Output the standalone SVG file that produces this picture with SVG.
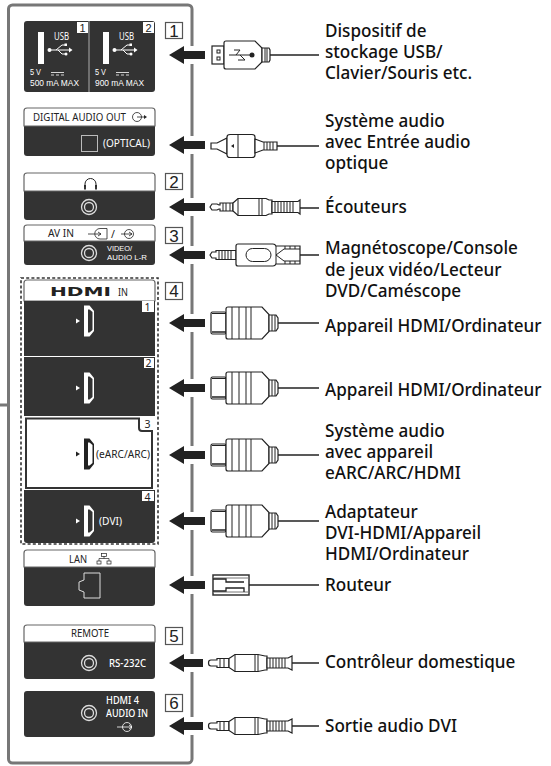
<svg xmlns="http://www.w3.org/2000/svg" width="551" height="766" viewBox="0 0 551 766">
<style>
text{font-family:"Noto Sans","Open Sans","Liberation Sans",sans-serif;}
.lbl{font-size:17.100px;font-weight:500;fill:#111;}
.pd{fill:#333;}
.pan{fill:#fff;stroke:#666;stroke-width:1.2;}
.w{fill:#fff;font-size:10.500px;}
.k{fill:#222;font-size:10.500px;}
text.nr{font-family:"Liberation Sans",sans-serif;font-size:9.500px;}
text.nv{font-family:"Liberation Sans",sans-serif;font-size:7.800px;}
.num{fill:#fff;stroke:#555;stroke-width:1.200;}
.nt{font-family:"Liberation Sans",sans-serif;font-size:17px;fill:#222;text-anchor:middle;}
.pl{fill:#fff;stroke:#222;stroke-width:1.200;}
.ln{fill:none;stroke:#222;stroke-width:1;}
.cb{fill:none;stroke:#222;stroke-width:1.500;}
</style>
<defs>
<path id="arrow" d="M169 0L184-9V-4H205V4H184V9Z" fill="#222"/>
<g id="hdmiplug">
<rect class="pl" x="211" y="-11" width="15" height="22" rx="1.500"/>
<path class="ln" d="M212-9.500H226"/><path d="M212 9H226" stroke="#222" stroke-width="1.500"/>
<path class="pl" d="M226-14Q226-16 228-16H262L269-8.500V8.500L262 16H228Q226 16 226 14Z"/>
<path class="ln" d="M232-16V16M239-16V16M246-16V16M251-16V16"/>
<path class="pl" d="M269-8H276L278-5V5L276 8H269Z"/><path class="ln" d="M272-8V8M275-8V8"/>
<path class="cb" d="M278 0H319"/>
</g>
<g id="jack">
<path class="pl" d="M210 0L212-3H217L219-2H220V-4H233V4H220V2H219L217 3H212Z"/>
<path class="ln" d="M223-4V4M226-4V4M230-4V4"/>
<path class="pl" d="M233-4L238-8.500H258L262-8.500H266L269-7H272V7H269L266 8.500H238L233 4Z"/>
<path class="ln" d="M238-8.500V8.500M259-8.500V8.500M262-8.500V8.500"/>
<path class="pl" d="M272-5.500H298L300-7V7L298 5.500H272Z"/>
<path class="ln" d="M275-5V5M278-5V5M281-5V5M284-5V5M287-5V5M290-5V5M293-5V5"/>
<path class="cb" d="M300 1H319"/>
</g>
<g id="jack2">
<path class="pl" d="M208.500 0Q208.500-3 211-3H217V-4.500H229V4.500H217V3H211Q208.500 3 208.500 0Z"/>
<path class="ln" d="M220-4.500V4.500M224-4.500V4.500"/>
<path class="pl" d="M229-4.500L235-8.500H258L265-7H267V7H265L258 8.500H235L229 4.500Z"/>
<path class="ln" d="M235-8.500V8.500M255-8.500V8.500M258-8.500V8.500"/>
<path class="pl" d="M267-5H288L292-7V7L288 5H267Z"/>
<path class="ln" d="M270-5V5M273-5V5M276-5V5M279-5V5M282-5V5M285-5V5"/>
<path class="cb" d="M292 0H319"/>
</g>
<g id="usbs">
<circle cx="-9.500" cy="0" r="2" fill="#fff"/>
<path d="M-9 0H10M-3 0L3-5H6M-1 0L3 4H6" fill="none" stroke="#fff" stroke-width="1"/>
<path d="M10-2.500L13.500 0L10 2.500Z" fill="#fff"/>
<rect x="5.500" y="-6.500" width="2.500" height="2.500" fill="#fff"/>
<circle cx="7" cy="4" r="1.500" fill="#fff"/>
</g>
<g id="jackhole"><circle r="7.500" fill="none" stroke="#ddd" stroke-width="1.300"/><circle r="4.500" fill="none" stroke="#ddd" stroke-width="1.300"/></g>
<g id="hdmihole"><path d="M-8-2.500L-4 0L-8 2.500Z" fill="#fff"/><path d="M0-15.500H5.500L10-10V10L5.500 15.500H0Z" fill="#fff"/><path d="M4-11.500H5.500L8.500-9V9L5.500 11.500H4Z" fill="#333"/></g>
</defs>

<g id="frame"><path d="M8.500 405V9A4 4 0 0 1 12.500 5H188A4 4 0 0 1 192 9V759A4 4 0 0 1 188 763H12.500A4 4 0 0 1 8.500 759V405H0" fill="none" stroke="#777" stroke-width="3"/></g>

<g id="usb-panel">
<rect class="pd" x="24" y="21" width="131" height="71" rx="3"/>
<path d="M89 21V92" stroke="#ccc" stroke-width="0.800"/>
<path d="M77 22H88V33H77ZM143 22H154V33H143Z" fill="#fff"/>
<text x="82.500" y="32" class="nt" style="font-size:11px">1</text><text x="148.500" y="32" class="nt" style="font-size:11px">2</text>
<rect x="38" y="32" width="6" height="32" fill="#fff"/><rect x="103" y="32" width="6" height="32" fill="#fff"/>
<text x="54" y="39.500" class="w" textLength="15" lengthAdjust="spacingAndGlyphs">USB</text><text x="119" y="39.500" class="w" textLength="15" lengthAdjust="spacingAndGlyphs">USB</text>
<use href="#usbs" x="59" y="50"/><use href="#usbs" x="124" y="50"/>
<text x="30" y="75" class="w nr" textLength="11" lengthAdjust="spacingAndGlyphs">5 V</text><text x="95" y="75" class="w nr" textLength="11" lengthAdjust="spacingAndGlyphs">5 V</text>
<path d="M51 72.500H64M116 72.500H129" stroke="#fff" stroke-width="0.800"/>
<path d="M51 75H64M116 75H129" stroke="#fff" stroke-width="0.800" stroke-dasharray="3 2"/>
<text x="30" y="86" class="w nr" textLength="49" lengthAdjust="spacingAndGlyphs">500 mA MAX</text><text x="95" y="86" class="w nr" textLength="49" lengthAdjust="spacingAndGlyphs">900 mA MAX</text>
</g>

<g id="digital-panel">
<rect class="pd" x="24" y="108" width="131" height="48" rx="3"/>
<path class="pan" d="M24 126V111Q24 108 27 108H152Q155 108 155 111V126Z"/>
<text x="33" y="121" class="k" style="font-size:11px" textLength="93" lengthAdjust="spacingAndGlyphs">DIGITAL AUDIO OUT</text>
<circle cx="137" cy="117" r="4.500" fill="none" stroke="#222" stroke-width="0.800"/><path d="M137 117H144" stroke="#222" stroke-width="0.800"/><path d="M144 115L147 117L144 119Z" fill="#222"/>
<rect x="81.500" y="135.500" width="16" height="16" fill="none" stroke="#bbb"/>
<text x="103" y="147" class="w" style="font-size:11px" textLength="47" lengthAdjust="spacingAndGlyphs">(OPTICAL)</text>
</g>

<g id="headphone-panel">
<rect class="pd" x="24" y="173" width="131" height="47" rx="3"/>
<path class="pan" d="M24 191V176Q24 173 27 173H152Q155 173 155 176V191Z"/>
<path d="M85 187V184A5.500 5.500 0 0 1 96 184V187" fill="none" stroke="#222" stroke-width="1"/><path d="M85 185V189.500M96 185V189.500" stroke="#222" stroke-width="1.800"/>
<use href="#jackhole" x="89" y="207"/>
</g>

<g id="av-panel">
<rect class="pd" x="24" y="225" width="131" height="40" rx="3"/>
<path class="pan" d="M24 241V228Q24 225 27 225H152Q155 225 155 228V241Z"/>
<text x="48" y="237" class="k" style="font-size:11px" textLength="26" lengthAdjust="spacingAndGlyphs">AV IN</text>
<path d="M88 234H101M98 232L101 234L98 236M100 228.500H107V239H100A5.200 5.200 0 0 1 100 228.500Z" fill="none" stroke="#222" stroke-width="0.800"/>
<text x="111" y="238" class="k">/</text>
<path d="M121 234H132M129 232L132 234L129 236" fill="none" stroke="#222" stroke-width="0.800"/><circle cx="129" cy="234" r="4.500" fill="none" stroke="#222" stroke-width="0.800"/>
<use href="#jackhole" x="89" y="253"/>
<text x="107" y="250.500" class="w nv" textLength="25" lengthAdjust="spacingAndGlyphs">VIDEO/</text>
<text x="107" y="260" class="w nv" textLength="40" lengthAdjust="spacingAndGlyphs">AUDIO L-R</text>
</g>

<g id="hdmi-panel">
<rect x="21" y="278" width="137" height="266" fill="none" stroke="#333" stroke-width="1.600" stroke-dasharray="3 2.200"/>
<path class="pan" d="M24 301V283Q24 280 27 280H152Q155 280 155 283V301Z"/>
<text x="50" y="296" style="font-family:'DejaVu Sans',sans-serif;font-size:13px;font-weight:700" fill="#222" textLength="61" lengthAdjust="spacingAndGlyphs">HDMI</text>
<text x="118" y="296" class="k" textLength="10" lengthAdjust="spacingAndGlyphs">IN</text>
<rect class="pd" x="24" y="301" width="131" height="55"/>
<rect class="pd" x="24" y="357" width="131" height="59"/>
<path d="M26 418.500H139V428Q139 431 142 431H152V488H26Z" fill="#fff" stroke="#333" stroke-width="2"/>
<path class="pd" d="M24 490H155V540Q155 543 152 543H27Q24 543 24 540Z"/>
<path d="M142 301H154V312H142ZM144 358H154V368H144ZM142 491H154V501H142Z" fill="#fff"/>
<text x="147.500" y="310.500" class="k" text-anchor="middle">1</text><text x="148.500" y="367" class="k" text-anchor="middle">2</text><text x="147.500" y="428" class="k" text-anchor="middle">3</text><text x="147.500" y="500.500" class="k" text-anchor="middle">4</text>
<use href="#hdmihole" x="84" y="321"/>
<use href="#hdmihole" x="84" y="388"/>
<g transform="translate(84,454)"><path d="M-8-2.500L-4 0L-8 2.500Z" fill="#222"/><path d="M0-15.500H5.500L10-10V10L5.500 15.500H0Z" fill="#222"/><path d="M4-11.500H5.500L8.500-9V9L5.500 11.500H4Z" fill="#fff"/></g>
<use href="#hdmihole" x="84" y="521"/>
<text x="96" y="458" class="k" style="font-size:11px" textLength="54" lengthAdjust="spacingAndGlyphs">(eARC/ARC)</text>
<text x="99" y="525" class="w" style="font-size:11px" textLength="23" lengthAdjust="spacingAndGlyphs">(DVI)</text>
</g>

<g id="lan-panel">
<rect class="pd" x="24" y="550" width="131" height="56" rx="3"/>
<path class="pan" d="M24 567V553Q24 550 27 550H152Q155 550 155 553V567Z"/>
<text x="69" y="563" class="k" style="font-size:11px" textLength="18" lengthAdjust="spacingAndGlyphs">LAN</text>
<path d="M99 561V558.500H109V561M104 558.500V556" fill="none" stroke="#222" stroke-width="0.700"/><rect x="101.500" y="553.500" width="5" height="3" fill="none" stroke="#222" stroke-width="0.700"/><rect x="97" y="561" width="4" height="3" fill="none" stroke="#222" stroke-width="0.700"/><rect x="107" y="561" width="4" height="3" fill="none" stroke="#222" stroke-width="0.700"/>
<path d="M100 573H84V580L79 582V590L84 592V598H100Z" fill="none" stroke="#ddd"/>
</g>

<g id="remote-panel">
<rect class="pd" x="24" y="625" width="131" height="54" rx="3"/>
<path class="pan" d="M24 642V628Q24 625 27 625H152Q155 625 155 628V642Z"/>
<text x="71" y="637" class="k" textLength="38" lengthAdjust="spacingAndGlyphs">REMOTE</text>
<use href="#jackhole" x="89" y="663"/>
<text x="109" y="667" class="w" style="font-weight:500" textLength="37" lengthAdjust="spacingAndGlyphs">RS-232C</text>
</g>

<g id="audio-panel">
<rect class="pd" x="24" y="691" width="131" height="46" rx="3"/>
<use href="#jackhole" x="89" y="713"/>
<text x="106" y="704" class="w" style="font-weight:500" textLength="33" lengthAdjust="spacingAndGlyphs">HDMI 4</text>
<text x="106" y="717" class="w" style="font-weight:500" textLength="42" lengthAdjust="spacingAndGlyphs">AUDIO IN</text>
<path d="M117 727H132M129 725L132 727L129 729" fill="none" stroke="#fff" stroke-width="0.800"/><circle cx="127" cy="727" r="4.500" fill="none" stroke="#fff" stroke-width="0.800"/>
</g>

<g id="numbers">
<rect class="num" x="165.500" y="22.500" width="17" height="16"/><text class="nt" x="174" y="36.500">1</text>
<rect class="num" x="165.500" y="173.500" width="17" height="16"/><text class="nt" x="174" y="187.500">2</text>
<rect class="num" x="165.500" y="227.500" width="17" height="16"/><text class="nt" x="174" y="241.500">3</text>
<rect class="num" x="165.500" y="282.500" width="17" height="17"/><text class="nt" x="174" y="297">4</text>
<rect class="num" x="165.500" y="627.500" width="17" height="17"/><text class="nt" x="174" y="642">5</text>
<rect class="num" x="165.500" y="694.500" width="17" height="17"/><text class="nt" x="174" y="709">6</text>
</g>

<g id="connectors">
<path d="M185 46H199V64H185ZM185 136H199V154H185ZM185 198H199V216H185ZM185 246H199V264H185ZM185 314H199V332H185ZM185 379H199V397H185ZM185 446H199V464H185ZM185 512H199V530H185ZM185 576H199V594H185ZM185 654H199V672H185ZM185 717H199V735H185Z" fill="#fff"/>
<use href="#arrow" y="55"/><use href="#arrow" y="145"/><use href="#arrow" y="207"/><use href="#arrow" y="255"/>
<use href="#arrow" y="323"/><use href="#arrow" y="388"/><use href="#arrow" y="455"/><use href="#arrow" y="521"/>
<use href="#arrow" y="585"/><path d="M169 663L184 654V659H203V667H184V672Z" fill="#222"/><path d="M169 726L184 717V722H203V730H184V735Z" fill="#222"/>

<g id="plug-usb" transform="translate(0,55)">
<rect class="pl" x="212" y="-9" width="12" height="18"/>
<rect x="217" y="-5" width="3" height="3" class="ln"/><rect x="217" y="2" width="3" height="3" class="ln"/>
<path class="pl" d="M224-12Q224-14 226-14H255L262-7V7L255 14H226Q224 14 224 12Z"/>
<path class="pl" d="M262-7H269L270-5V5L269 7H262Z"/><path class="ln" d="M265-7V7M267-7V7"/>
<path d="M229 0H251M236 0L240-5H234M240 0L245 5H238" fill="none" stroke="#222"/><circle cx="252" cy="0" r="2.500" fill="#222"/>
<path class="cb" d="M270 0H319"/>
</g>
<g id="plug-optical" transform="translate(0,146)">
<path class="pl" d="M211-3H217L227-8V8L217 3H211Z"/>
<path class="pl" d="M227-9Q227-11.500 230-11.500H252Q255-11.500 255-9V9Q255 11.500 252 11.500H230Q227 11.500 227 9Z"/>
<path class="ln" d="M238-11.500V11.500"/><path d="M231 0L234-2V2Z" fill="#222"/>
<path class="pl" d="M255-7L263-4H277V4H263L255 7Z"/>
<path class="ln" d="M264-4V4M267-4V4M270-4V4M273-4V4"/>
<path class="cb" d="M277 0H319"/>
</g>
<use href="#jack" y="207"/>
<g id="plug-av" transform="translate(0,255)">
<path class="pl" d="M210 0L212-3H216V-4.500H236V4.500H216V3H212Z"/>
<path class="ln" d="M219-4.500V4.500M222-4.500V4.500M225-4.500V4.500M228-4.500V4.500M231-4.500V4.500"/>
<path class="pl" d="M236-9Q236-11 238-11H273Q275-11 276-9H300V9H276Q275 11 273 11H238Q236 11 236 9Z"/>
<rect x="246" y="-6.500" width="25" height="13" rx="6.500" class="ln"/>
<path class="ln" d="M276-9V9M276 0L284-6H300M276 0L284 6H300M285-9V-6M290-9V-6M295-9V-6M285 6V9M290 6V9M295 6V9"/>
<path class="cb" d="M300 0H319"/>
</g>
<use href="#hdmiplug" y="323"/><use href="#hdmiplug" y="388"/><use href="#hdmiplug" y="455"/><use href="#hdmiplug" y="521"/>
<g id="plug-lan" transform="translate(0,585)">
<path d="M213-10H249V10H213Z" fill="#fff" stroke="#333" stroke-width="1.500"/>
<path d="M213-7H249M213 7H249" stroke="#777" stroke-width="1"/>
<path d="M213-6H226V-3H244M213 6H226V3H232" fill="none" stroke="#222" stroke-width="1.300"/>
<path d="M232 3H244V7" fill="none" stroke="#222" stroke-width="1.300"/>
<path class="cb" d="M249 0H319"/>
</g>
<use href="#jack2" y="663"/><use href="#jack2" y="726"/>
</g>

<g id="labels">
<text class="lbl" x="325" y="37">Dispositif de</text>
<text class="lbl" x="325" y="58">stockage USB/</text>
<text class="lbl" x="325" y="79">Clavier/Souris etc.</text>
<text class="lbl" x="325" y="127">Système audio</text>
<text class="lbl" x="325" y="148">avec Entrée audio</text>
<text class="lbl" x="325" y="169">optique</text>
<text class="lbl" x="325" y="213">Écouteurs</text>
<text class="lbl" x="325" y="254">Magnétoscope/Console</text>
<text class="lbl" x="325" y="276">de jeux vidéo/Lecteur</text>
<text class="lbl" x="325" y="297">DVD/Caméscope</text>
<text class="lbl" x="325" y="332">Appareil HDMI/Ordinateur</text>
<text class="lbl" x="325" y="396">Appareil HDMI/Ordinateur</text>
<text class="lbl" x="325" y="437">Système audio</text>
<text class="lbl" x="325" y="458">avec appareil</text>
<text class="lbl" x="325" y="479">eARC/ARC/HDMI</text>
<text class="lbl" x="325" y="518">Adaptateur</text>
<text class="lbl" x="325" y="539">DVI-HDMI/Appareil</text>
<text class="lbl" x="325" y="560">HDMI/Ordinateur</text>
<text class="lbl" x="325" y="591">Routeur</text>
<text class="lbl" x="325" y="668">Contrôleur domestique</text>
<text class="lbl" x="325" y="732">Sortie audio DVI</text>
</g>
</svg>
